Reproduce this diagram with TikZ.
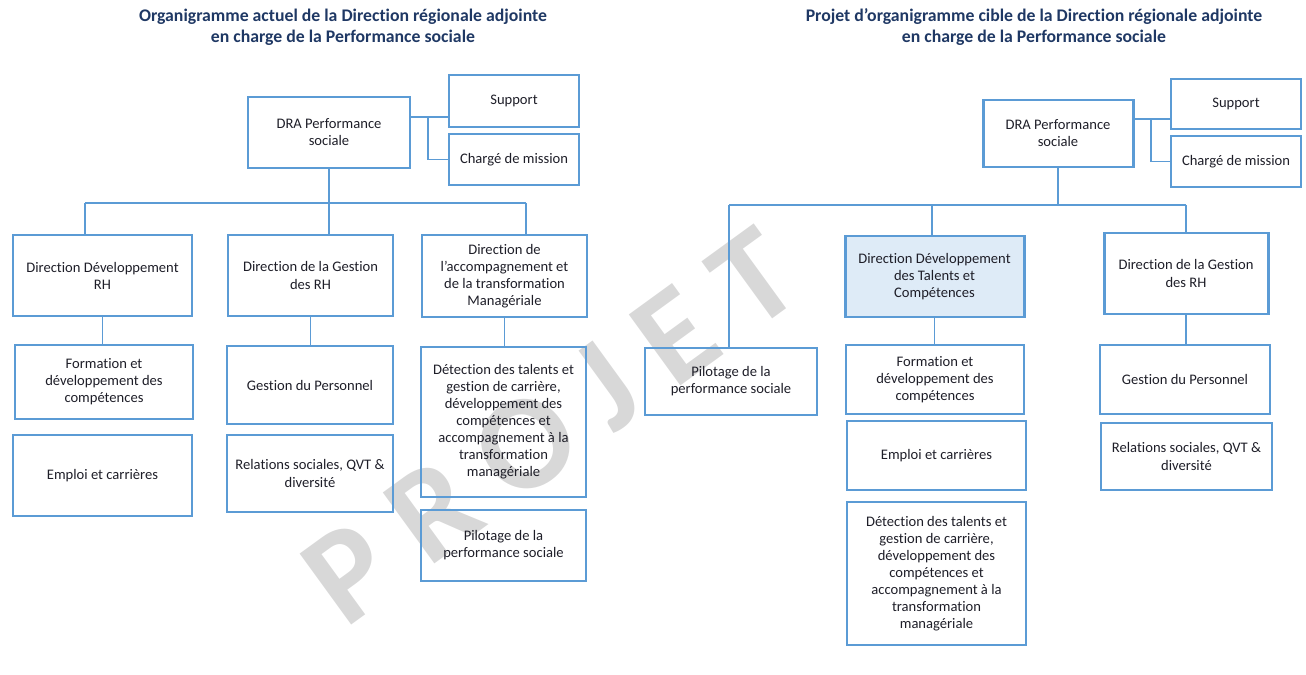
\documentclass[tikz,border=0pt]{standalone}
\usepackage{fontspec}
\setmainfont{Carlito}[Ligatures=NoCommon]
\usepackage{xcolor}
\usetikzlibrary{positioning}
\definecolor{lineblue}{RGB}{91,155,213}
\definecolor{paleblue}{RGB}{222,235,247}
\definecolor{titleblue}{RGB}{31,56,100}
\definecolor{boxtext}{RGB}{30,30,40}
\definecolor{wmgrey}{RGB}{216,216,216}

\begin{document}
\begin{tikzpicture}[x=0.02cm,y=-0.02cm,
  sz/.style 2 args={minimum width=#1*0.02cm,minimum height=#2*0.02cm},
  unit/.style={rectangle,draw=lineblue,line width=0.6pt,align=center,
               inner sep=1pt,text=boxtext,font=\fontsize{8.3}{9.7}\selectfont},
  dirbox/.style={unit,line width=1.7pt},
  link/.style={draw=lineblue,line width=0.6pt},
  heading/.style={align=center,text=titleblue,font=\bfseries\fontsize{10.1}{11.9}\selectfont}]

  \useasboundingbox (0,0) rectangle (1306,675);

  % watermark
  \node (wm) [rotate=36,text=wmgrey,font=\bfseries\fontsize{77}{77}\selectfont] at (550,426) {P R O J E T};

  % titles
  \node (t1) [heading] at (343,27.5)
    {Organigramme actuel de la Direction régionale adjointe\\en charge de la Performance sociale};
  \node (t2) [heading] at (1034,27.5)
    {Projet d’organigramme cible de la Direction régionale adjointe\\en charge de la Performance sociale};

  % current chart
  \node (dra1) [dirbox,sz={162}{71}] at (329,132.5) {DRA Performance\\sociale};
  \node (sup1) [unit,sz={130}{52}] at (514,101) {Support};
  \node (cdm1) [unit,sz={130}{51}] at (514,159.5) {Chargé de mission};
  \node (ddrh1) [dirbox,sz={179}{81}] at (102.5,275.5) {Direction Développement\\RH};
  \node (dgrh1) [dirbox,sz={165}{81}] at (310.5,275.5) {Direction de la Gestion\\des RH};
  \node (dacc1) [dirbox,sz={165}{82}] at (504.5,276)
    {Direction de\\l’accompagnement et\\de la transformation\\Managériale};
  \node (form1) [unit,sz={178}{74}] at (104,382) {Formation et\\développement des\\compétences};
  \node (empl1) [unit,sz={179}{81}] at (102.5,475.5) {Emploi et carrières};
  \node (gper1) [unit,sz={166}{78}] at (310,385) {Gestion du Personnel};
  \node (rel1) [unit,sz={166}{77}] at (310,473.5) {Relations sociales, QVT \&\\diversité};
  \node (det1) [unit,sz={165}{150}] at (503.5,422)
    {Détection des talents et\\gestion de carrière,\\développement des\\compétences et\\accompagnement à la\\transformation\\managériale};
  \node (pil1) [unit,sz={165}{71}] at (503.5,545.5) {Pilotage de la\\performance sociale};

  % target chart
  \node (dra2) [dirbox,sz={150}{67}] at (1058,133.5) {DRA Performance\\sociale};
  \node (sup2) [unit,sz={130}{50}] at (1236,104) {Support};
  \node (cdm2) [unit,sz={130}{51}] at (1236,161.5) {Chargé de mission};
  \node (pil2) [unit,sz={172}{67}] at (731,381.5) {Pilotage de la\\performance sociale};
  \node (ddtc2) [dirbox,fill=paleblue,sz={179}{81}] at (934.5,276.5)
    {Direction Développement\\des Talents et\\Compétences};
  \node (dgrh2) [dirbox,sz={164}{81}] at (1186,273.5) {Direction de la Gestion\\des RH};
  \node (form2) [unit,sz={178}{69}] at (935,379.5) {Formation et\\développement des\\compétences};
  \node (empl2) [unit,sz={179}{69}] at (936.5,455.5) {Emploi et carrières};
  \node (det2) [unit,sz={179}{143}] at (936.5,573.5)
    {Détection des talents et\\gestion de carrière,\\développement des\\compétences et\\accompagnement à la\\transformation\\managériale};
  \node (gper2) [unit,sz={170}{69}] at (1185,379.5) {Gestion du Personnel};
  \node (rel2) [unit,sz={171}{67}] at (1186.5,456.5) {Relations sociales, QVT \&\\diversité};

  % junction points
  \coordinate (j1) at (428,117);
  \coordinate (b1l) at (85,203);
  \coordinate (b1r) at (526,203);
  \coordinate (j2) at (1151,119);
  \coordinate (b2l) at (729,205);
  \coordinate (b2m) at (932,205);
  \coordinate (b2r) at (1186,205);

  % connectors
  \draw[link] (dra1.east |- j1) -- (sup1.west |- j1);
  \draw[link] (j1) |- (cdm1.west);
  \draw[link] (dra1.south) -- (dra1.south |- b1l);
  \draw[link] (b1l) -- (b1r);
  \draw[link] (b1l) -- (b1l |- ddrh1.north);
  \draw[link] (dra1.south |- b1l) -- (dra1.south |- dgrh1.north);
  \draw[link] (b1r) -- (b1r |- dacc1.north);

  \draw[link] (dra2.east |- j2) -- (sup2.west |- j2);
  \draw[link] (j2) |- (cdm2.west);
  \draw[link] (dra2.south) -- (dra2.south |- b2l);
  \draw[link] (b2l) -- (b2r);
  \draw[link] (b2l) -- (b2l |- pil2.north);
  \draw[link] (b2m) -- (b2m |- ddtc2.north);
  \draw[link] (b2r) -- (b2r |- dgrh2.north);

  \foreach \up/\down in {ddrh1/form1,dgrh1/gper1,dacc1/det1,ddtc2/form2,dgrh2/gper2}{
    \draw[link] (\up.south) -- (\up.south |- \down.north);
  }
\end{tikzpicture}
\end{document}
